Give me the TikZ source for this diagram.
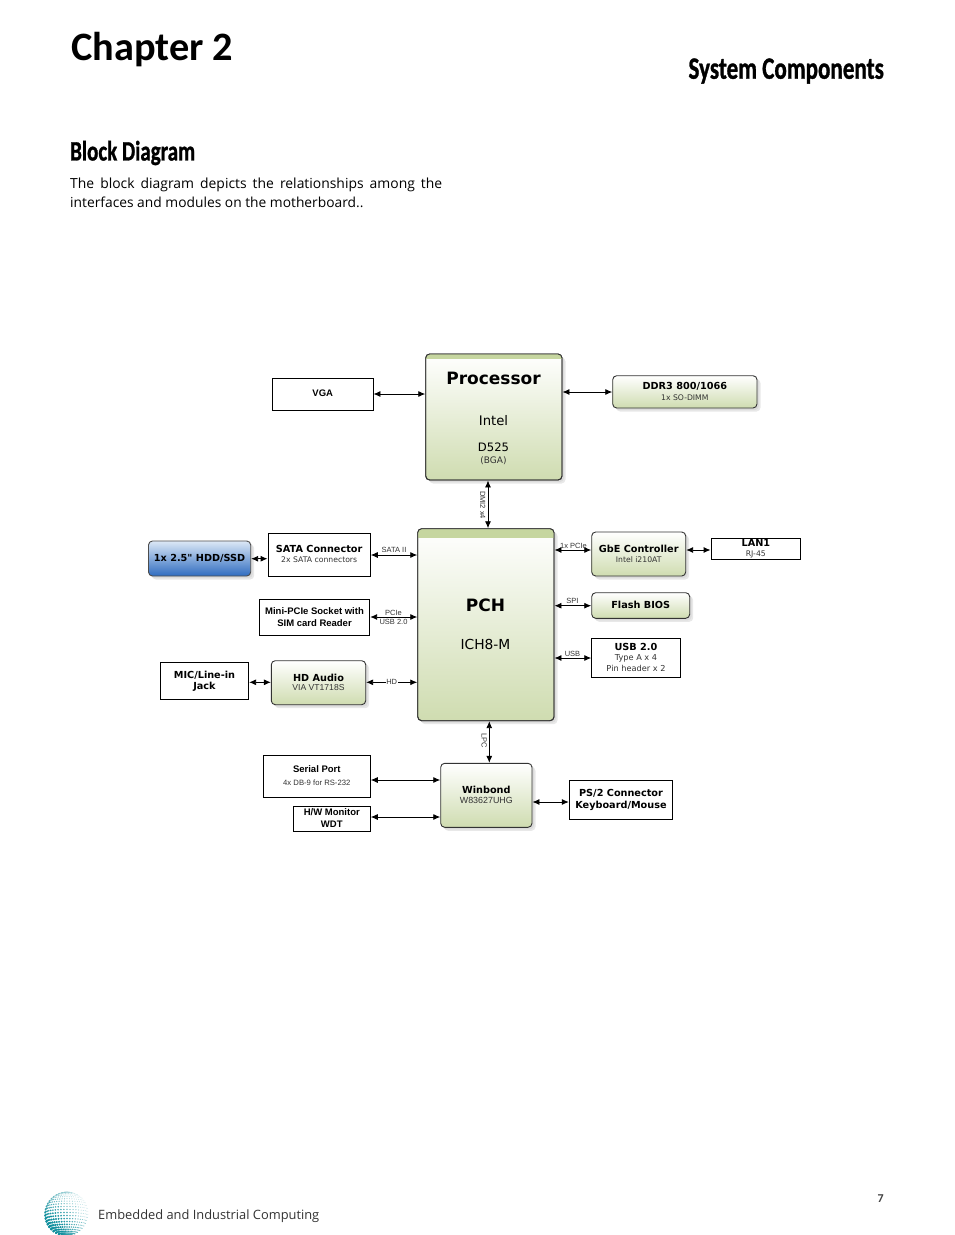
\documentclass[tikz,border=0pt]{standalone}
\usepackage{fontspec}
\setmainfont{Open Sans}
\newfontfamily\vfont{DejaVu Sans}
\newfontfamily\afont{Liberation Sans}
\newfontfamily\hfont{Carlito}
\newfontfamily\hfontb[FakeBold=1.2]{Carlito}
\usetikzlibrary{arrows.meta,shadows}
\definecolor{boxgreen}{HTML}{CFDCB0}
\definecolor{stripgreen}{HTML}{C6D6A0}
\definecolor{blueT}{HTML}{DCE8F6}
\definecolor{blueB}{HTML}{2F6CC0}
\definecolor{teal1}{HTML}{12909E}
\definecolor{lbl}{HTML}{333333}
\tikzset{
  softshadow/.style={general shadow={shadow xshift=3.5pt,shadow yshift=-3.5pt,fill=black!9},
                     general shadow={shadow xshift=2pt,shadow yshift=-2pt,fill=black!14}},
  plainbox/.style={draw=black,line width=0.9pt,fill=white,inner sep=0pt,align=center,text=black},
  greenbox/.style={draw=black!80,line width=0.9pt,rounded corners=4pt,softshadow,top color=white,bottom color=boxgreen,inner sep=0pt,align=center,text=black},
  bluebox/.style={draw=black!70,line width=0.9pt,rounded corners=4pt,softshadow,top color=blueT,bottom color=blueB,inner sep=0pt,align=center,text=black},
  link/.style={line width=0.9pt,{Latex[length=7pt,width=6pt]}-{Latex[length=7pt,width=6pt]}},
  smalllbl/.style={font=\afont\fontsize{7.5}{8}\selectfont,text=lbl,inner sep=0pt},
  txt/.style={inner sep=0pt,text=black},
  pagetxt/.style={inner sep=0pt,anchor=west,text=black},
}
\newcommand{\bt}[1]{{\vfont\bfseries\fontsize{9.7}{11}\selectfont #1}}
\newcommand{\bs}[1]{{\vfont\fontsize{7.7}{9}\selectfont\color{lbl} #1}}
\newcommand{\at}[1]{{\afont\bfseries\fontsize{9.5}{12}\selectfont #1}}
\newcommand{\as}[1]{{\afont\fontsize{8.6}{10}\selectfont\color{lbl} #1}}
\newcommand{\blk}[7]{%
  \pgfmathsetmacro{\bw}{#5-#3}\pgfmathsetmacro{\bh}{#6-#4}%
  \pgfmathsetmacro{\bx}{(#3+#5)/2}\pgfmathsetmacro{\by}{(#4+#6)/2}%
  \node[#2,minimum width=\bw pt,minimum height=\bh pt] (#1) at (\bx,\by) {#7};}
\begin{document}
\begin{tikzpicture}[x=1pt,y=-1pt]
\useasboundingbox (0,0) rectangle (954,1235);
\fill[white] (0,0) rectangle (954,1235);
% page text
\node[pagetxt] (chap) at (71,50) {\hfont\bfseries\fontsize{40.3}{44}\selectfont Chapter 2};
\node[inner sep=0pt,anchor=east,xscale=0.745] (sys) at (884,71) {\hfontb\bfseries\fontsize{31}{34}\selectfont System Components};
\node[pagetxt,xscale=0.75] (bd) at (70,153) {\hfontb\bfseries\fontsize{28}{30}\selectfont Block Diagram};
\node[pagetxt] (p1) at (70,185) {\fontsize{13.9}{16}\selectfont\makebox[372pt][s]{The block diagram depicts the relationships among the}};
\node[pagetxt] (p2) at (70,202.3) {\fontsize{13.8}{16}\selectfont interfaces and modules on the motherboard..};
\node[inner sep=0pt,anchor=east] (pg) at (884,1198.5) {\hfont\bfseries\fontsize{12}{12}\selectfont\color{black!75} 7};
\node[pagetxt] (foot) at (98,1216) {\fontsize{12.85}{16}\selectfont\color{black!80} Embedded and Industrial Computing};
% globe
\begin{scope}
\foreach \la in {-84,-76,...,84}{
 \foreach \lo in {-84,-76,...,84}{
  \pgfmathsetmacro{\gx}{67+22*cos(\la)*sin(\lo-12)}
  \pgfmathsetmacro{\gy}{1214-22*(sin(\la)*cos(8)+cos(\la)*cos(\lo-12)*sin(8))}
  \pgfmathsetmacro{\gr}{max(0.25,1.3-0.026*((\gx-52)*(\gx-52)+(\gy-1226)*(\gy-1226))^0.5)}
  \pgfmathsetmacro{\gt}{max(35,min(100,125-2.0*((\gx-50)*(\gx-50)+(\gy-1228)*(\gy-1228))^0.5))}
  \fill[teal1!\gt!white] (\gx,\gy) circle[radius=\gr];
 }}
\end{scope}
% blocks
\blk{vga}{plainbox}{272.5}{378}{373}{410}{\raisebox{1pt}{\at{VGA}}}
\blk{cpu}{greenbox}{425.7}{354}{562}{480}{}
\begin{scope}
\clip[rounded corners=4pt] (425.7,354) rectangle (562,480);
\fill[stripgreen] (425.7,354) rectangle (562,358.5);
\end{scope}
\draw[draw=black!80,line width=0.9pt,rounded corners=4pt] (425.7,354) rectangle (562,480);
\node[txt] (cpu1) at (493.5,378) {\vfont\bfseries\fontsize{17}{20}\selectfont Processor};
\node[txt] (cpu2) at (493.5,420.5) {\vfont\fontsize{13.2}{15}\selectfont Intel};
\node[txt] (cpu3) at (493.5,447) {\vfont\fontsize{11.6}{14}\selectfont D525};
\node[txt] (cpu4) at (493.5,460.5) {{\vfont\fontsize{9}{10}\selectfont\color{lbl}(BGA)}};
\blk{ddr}{greenbox}{612.7}{375.7}{757}{408}{\bt{DDR3 800/1066}\\[-1pt]\bs{1x SO-DIMM}}
\blk{hdd}{bluebox}{148.5}{541}{250.7}{576}{\bt{1x 2.5" HDD/SSD}}
\blk{sata}{plainbox}{268}{533}{370.3}{576}{\raisebox{0.7pt}{\bt{SATA Connector}}\\[-2pt]\raisebox{0.7pt}{\bs{2x SATA connectors}}}
\blk{pch}{greenbox}{417.7}{528.7}{554}{720.7}{}
\begin{scope}
\clip[rounded corners=4pt] (417.7,528.7) rectangle (554,720.7);
\fill[stripgreen] (417.7,528.7) rectangle (554,538);
\end{scope}
\draw[draw=black!80,line width=0.9pt,rounded corners=4pt] (417.7,528.7) rectangle (554,720.7);
\node[txt] (pch1) at (485.5,605) {\vfont\bfseries\fontsize{17}{20}\selectfont PCH};
\node[txt] (pch2) at (485.5,644.5) {\vfont\fontsize{13.8}{15}\selectfont ICH8-M};
\blk{gbe}{greenbox}{591.7}{532}{685.7}{576}{\raisebox{1pt}{\bt{GbE Controller}}\\[-2pt]\raisebox{1pt}{\bs{Intel i210AT}}}
\blk{lan}{plainbox}{711}{538.3}{800.7}{559.3}{\bt{LAN1}\\[-2pt]\bs{RJ-45}}
\blk{flash}{greenbox}{591.7}{592.7}{689.7}{618.3}{\raisebox{1pt}{\bt{Flash BIOS}}}
\blk{usb}{plainbox}{591.7}{638.3}{680.3}{677.3}{\bt{USB 2.0}\\[-2pt]{\vfont\fontsize{8.2}{10}\selectfont\color{lbl} Type A x 4}\\[-1pt]{\vfont\fontsize{8.2}{10}\selectfont\color{lbl} Pin header x 2}}
\blk{mini}{plainbox}{259.3}{599.3}{369.7}{635.3}{\at{Mini-PCIe Socket with}\\\at{SIM card Reader}}
\blk{mic}{plainbox}{160.3}{662.3}{248.7}{699.3}{\bt{MIC/Line-in}\\[-1pt]\bt{Jack}}
\blk{hda}{greenbox}{271.3}{660.7}{365.7}{704.7}{\bt{HD Audio}\\[-3pt]\as{VIA VT1718S}}
\blk{serial}{plainbox}{263.3}{755.3}{370.3}{797.3}{\raisebox{0.7pt}{\at{Serial Port}}\\[1pt]\raisebox{0.7pt}{\afont\fontsize{7.7}{9}\selectfont\color{lbl} 4x DB-9 for RS-232}}
\blk{hw}{plainbox}{293.3}{806.3}{370.3}{831.3}{\raisebox{0.7pt}{\at{H/W Monitor}}\\\raisebox{0.7pt}{\at{WDT}}}
\blk{win}{greenbox}{440.7}{763.3}{532}{827.3}{\raisebox{1pt}{\bt{Winbond}}\\[-2pt]\raisebox{1pt}{\afont\fontsize{8.9}{10}\selectfont\color{lbl} W83627UHG}}
\blk{ps}{plainbox}{569.3}{780.7}{672.7}{819.3}{\bt{PS/2 Connector}\\[0pt]\bt{Keyboard/Mouse}}
% connector anchors
\coordinate (cVga) at (0,394);
\coordinate (cDdr) at (0,392);
\coordinate (cHdd) at (0,558.7);
\coordinate (cSata) at (0,555);
\coordinate (cGbe) at (0,550);
\coordinate (cSpi) at (0,605.7);
\coordinate (cUsb) at (0,658);
\coordinate (cMini) at (0,617);
\coordinate (cHd) at (0,682.3);
\coordinate (cSer) at (0,780);
\coordinate (cHw) at (0,817);
\coordinate (cPs) at (0,802);
\coordinate (cDmi) at (488,0);
\coordinate (cLpc) at (489.3,0);
% connectors
\draw[link] (vga.east |- cVga) -- (cpu.west |- cVga);
\draw[link] (cpu.east |- cDdr) -- (ddr.west |- cDdr);
\draw[link] (cpu.south -| cDmi) -- (pch.north -| cDmi);
\draw[link] (hdd.east |- cHdd) -- (sata.west |- cHdd);
\draw[link] (sata.east |- cSata) -- (pch.west |- cSata);
\draw[link] (pch.east |- cGbe) -- (gbe.west |- cGbe);
\draw[link] (gbe.east |- cGbe) -- (lan.west |- cGbe);
\draw[link] (pch.east |- cSpi) -- (flash.west |- cSpi);
\draw[link] (pch.east |- cUsb) -- (usb.west |- cUsb);
\draw[link] (mini.east |- cMini) -- (pch.west |- cMini);
\draw[link] (mic.east |- cHd) -- (hda.west |- cHd);
\draw[link] (hda.east |- cHd) -- node[smalllbl,fill=white,inner xsep=0.5pt] (lHd) {HD} (pch.west |- cHd);
\draw[link] (pch.south -| cLpc) -- (win.north -| cLpc);
\draw[link] (serial.east |- cSer) -- (win.west |- cSer);
\draw[link] (hw.east |- cHw) -- (win.west |- cHw);
\draw[link] (win.east |- cPs) -- (ps.west |- cPs);
% connector labels
\node[smalllbl] (lSata) at (394,549.5) {SATA II};
\node[smalllbl] (lPcie) at (393.5,612.5) {PCIe};
\node[smalllbl] (lUsb2) at (393.5,621.5) {USB 2.0};
\node[smalllbl] (l1x) at (573.5,545.5) {1x PCIe};
\node[smalllbl] (lSpi) at (572.5,600.5) {SPI};
\node[smalllbl] (lUsb) at (572.5,653.5) {USB};
\node[smalllbl,rotate=-90] (lDmi) at (482.7,505) {DMI2 x4};
\node[smalllbl,rotate=-90] (lLpc) at (484.3,741) {LPC};
\end{tikzpicture}
\end{document}
